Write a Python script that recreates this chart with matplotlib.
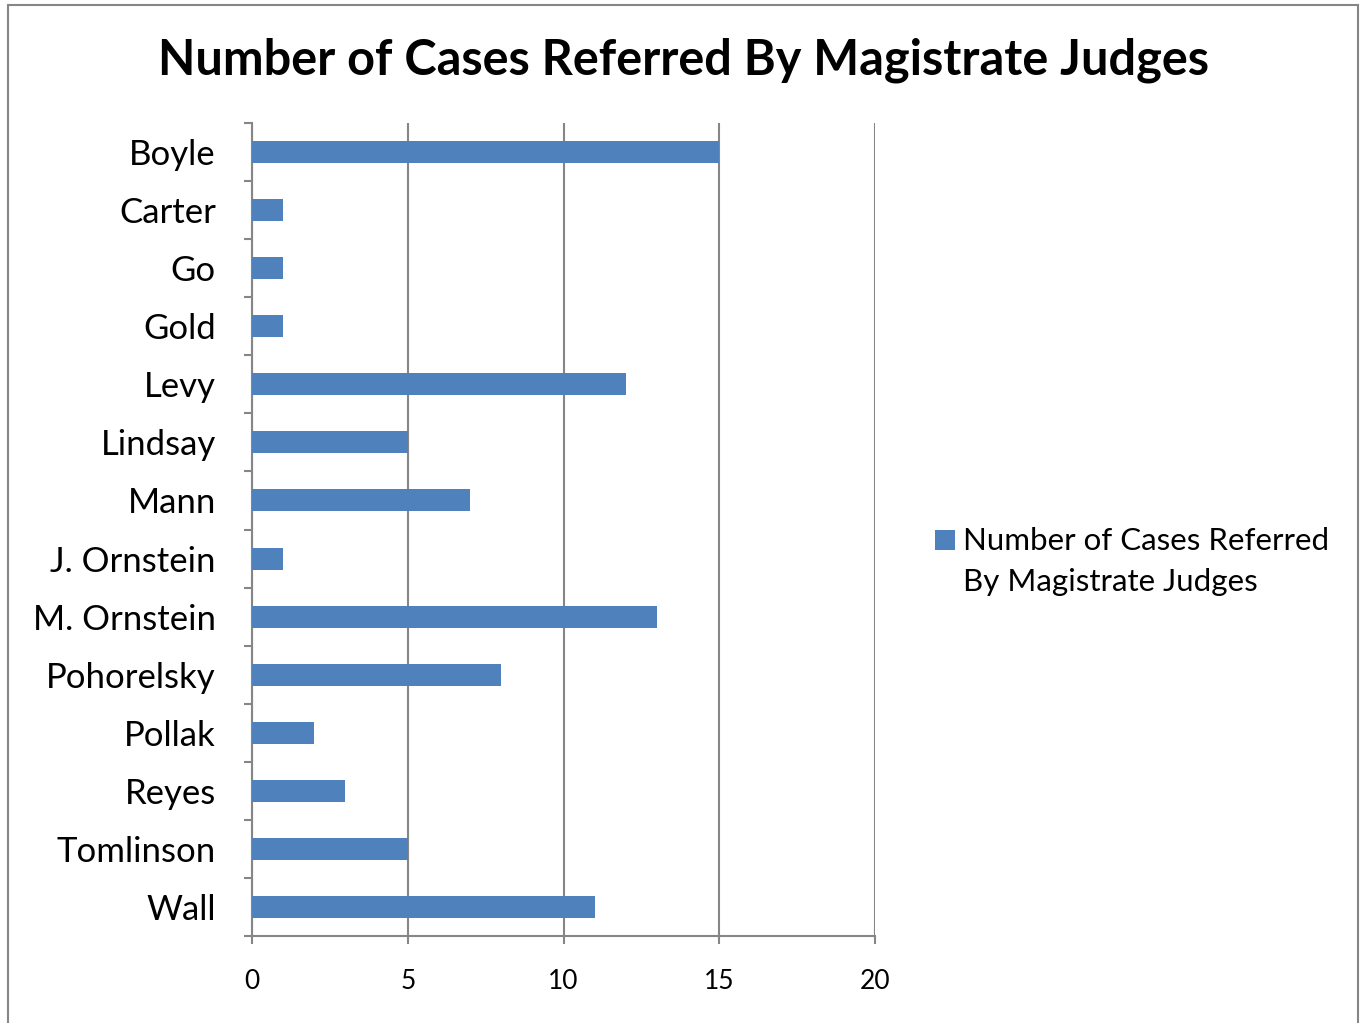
import matplotlib
matplotlib.use('Agg')
import matplotlib.pyplot as plt
from matplotlib.patches import Rectangle

# Chart data
judges = ['Boyle', 'Carter', 'Go', 'Gold', 'Levy', 'Lindsay', 'Mann',
          'J. Ornstein', 'M. Ornstein', 'Pohorelsky', 'Pollak', 'Reyes',
          'Tomlinson', 'Wall']
cases = [15, 1, 1, 1, 12, 5, 7, 1, 13, 8, 2, 3, 5, 11]
x_ticks = [0, 5, 10, 15, 20]
series_name = 'Number of Cases Referred\nBy Magistrate Judges'

plt.rcParams['font.family'] = ['Lato', 'DejaVu Sans']

BAR_COLOR = '#4F81BD'
GRID_COLOR = '#868686'
W, H = 1366, 1023

fig = plt.figure(figsize=(W / 100, H / 100), dpi=100)
ax = fig.add_axes([252 / W, 1 - 936 / H, 623 / W, 813 / H])

# Outer chart border (Excel style)
fig.patches.append(Rectangle((8 / W, -0.01), 1350 / W, 1 - 5 / H + 0.01,
                             transform=fig.transFigure, fill=False,
                             edgecolor=GRID_COLOR, linewidth=1.5))

pos = list(range(len(judges)))
ax.barh(pos, cases, height=0.38, color=BAR_COLOR, zorder=3)

ax.set_ylim(len(judges) - 0.5, -0.5)
ax.set_xlim(0, 20)
ax.set_xticks(x_ticks)
ax.set_xticklabels([str(t) for t in x_ticks], fontsize=19)
ax.set_yticks(pos)
ax.set_yticklabels(judges, fontsize=25)
ax.tick_params(axis='y', length=0, pad=26)
ax.tick_params(axis='x', length=6, width=1.5, color=GRID_COLOR, pad=18)

# Category boundary ticks on the y axis
ax.set_yticks([p - 0.5 for p in pos] + [len(judges) - 0.5], minor=True)
ax.tick_params(axis='y', which='minor', length=6, width=1.5, color=GRID_COLOR)

ax.xaxis.grid(True, color=GRID_COLOR, linewidth=1.5, zorder=0)
for side in ['top', 'right']:
    ax.spines[side].set_visible(False)
for side in ['left', 'bottom']:
    ax.spines[side].set_color(GRID_COLOR)
    ax.spines[side].set_linewidth(1.5)

fig.text(0.5, 1 - 60 / H, 'Number of Cases Referred By Magistrate Judges',
         ha='center', va='center', fontsize=35, fontweight='bold')

# Legend: square key beside the first line of the series name
fig.patches.append(Rectangle((935 / W, 1 - 550 / H), 20 / W, 20 / H,
                             transform=fig.transFigure, facecolor=BAR_COLOR,
                             edgecolor='none'))
fig.text(963 / W, 1 - 527 / H, series_name, ha='left', va='top',
         fontsize=22.5, linespacing=1.55)

fig.savefig('out.png', dpi=100)
